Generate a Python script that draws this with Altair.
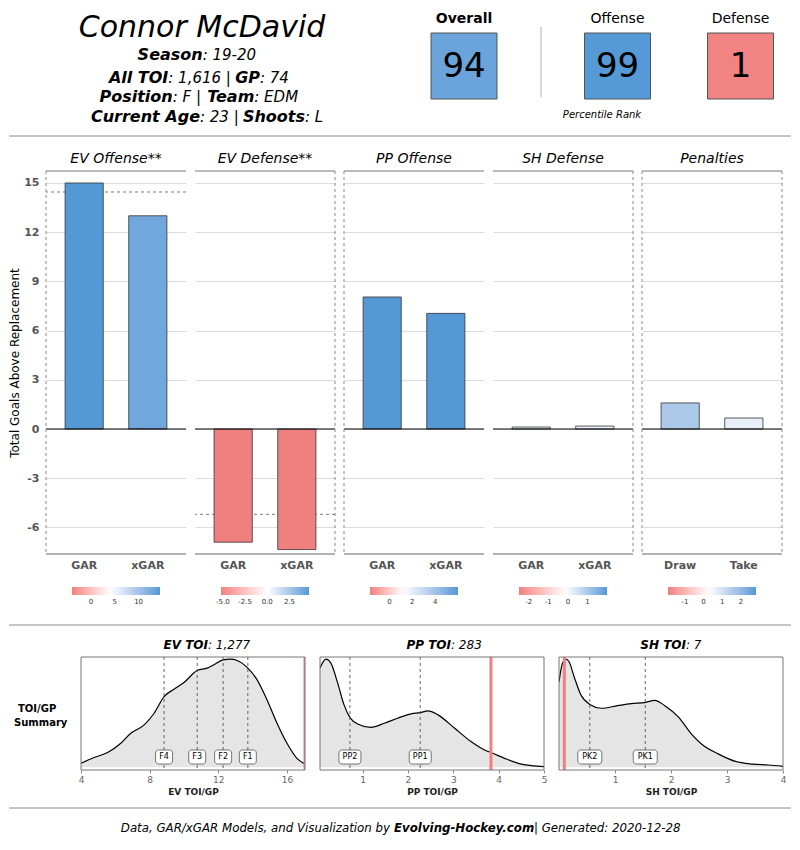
import altair as alt
import pandas as pd

FONT = "DejaVu Sans"
RED = "#f08080"
BLUE = "#5499d6"
GRID = "#dcdcdc"
SEP = "#8c8c8c"

# ---------------- header content ----------------
player_name = "Connor McDavid"
info_text = [
    ["Season", ": 19-20"],
    ["All TOI", ": 1,616 | ", "GP", ": 74"],
    ["Position", ": F | ", "Team", ": EDM"],
    ["Current Age", ": 23 | ", "Shoots", ": L"],
]
rank_labels = ["Overall", "Offense", "Defense"]
rank_values = [94, 99, 1]
rank_note = "Percentile Rank"

# ---------------- GAR panels ----------------
panel_titles = ["EV Offense**", "EV Defense**", "PP Offense", "SH Defense", "Penalties"]
panel_cats = [["GAR", "xGAR"], ["GAR", "xGAR"], ["GAR", "xGAR"], ["GAR", "xGAR"], ["Draw", "Take"]]
panel_values = [[15.0, 13.0], [-6.9, -7.35], [8.05, 7.05], [0.12, 0.18], [1.59, 0.67]]
panel_refs = [[14.45], [-5.2], [], [], []]
color_domains = [[-4.0, 4.0, 14.5], [-5.2, 0.0, 4.7], [-1.7, 1.2, 6.0], [-2.5, -0.1, 2.0], [-1.9, 0.3, 2.8]]
legend_values = [[0, 5, 10], [-5.0, -2.5, 0.0, 2.5], [0, 2, 4], [-2, -1, 0, 1], [-1, 0, 1, 2]]
legend_formats = ["d", ".1f", "d", "d", "d"]
y_ticks = [-6, -3, 0, 3, 6, 9, 12, 15]

# ---------------- TOI densities ----------------
dens_titles_bold = ["EV TOI", "PP TOI", "SH TOI"]
dens_titles_rest = [": 1,277", ": 283", ": 7"]
dens_xtitles = ["EV TOI/GP", "PP TOI/GP", "SH TOI/GP"]
ev_x = [4.0, 4.77, 5.55, 6.32, 6.90, 7.68, 8.26, 8.84, 9.42, 10.0, 10.77, 11.35, 11.74, 12.28,
        12.71, 13.10, 13.72, 14.26, 14.84, 15.42, 16.0, 16.58, 17.04]
ev_d = [0.037, 0.09, 0.136, 0.222, 0.315, 0.392, 0.50, 0.654, 0.722, 0.784, 0.895, 0.917, 0.948,
        0.994, 1.0, 0.988, 0.917, 0.809, 0.623, 0.407, 0.222, 0.083, 0.031]
pp_x = [0.06, 0.19, 0.30, 0.45, 0.59, 0.73, 0.89, 1.18, 1.48, 1.77, 2.07, 2.27, 2.44, 2.66,
        3.03, 3.39, 3.69, 3.87, 4.13, 4.43, 4.72, 5.0]
pp_d = [0.918, 1.0, 0.963, 0.778, 0.577, 0.454, 0.401, 0.370, 0.407, 0.454, 0.494, 0.506, 0.522,
        0.485, 0.361, 0.238, 0.160, 0.130, 0.083, 0.037, 0.015, 0.006]
sh_x = [0.0, 0.06, 0.12, 0.18, 0.27, 0.39, 0.56, 0.75, 1.05, 1.29, 1.55, 1.71, 1.89, 2.13, 2.37,
        2.55, 2.85, 3.15, 3.45, 3.74, 4.0]
sh_d = [0.79, 0.96, 1.0, 0.976, 0.838, 0.671, 0.579, 0.546, 0.570, 0.588, 0.601, 0.619, 0.570,
        0.466, 0.305, 0.213, 0.122, 0.055, 0.030, 0.021, 0.009]
dens_x = [ev_x, pp_x, sh_x]
dens_y = [ev_d, pp_d, sh_d]
dens_domains = [[4.0, 17.05], [0.06, 5.0], [0.0, 4.0]]
dens_ticks = [[4, 6, 8, 10, 12, 14, 16], [1, 2, 3, 4, 5], [1, 2, 3, 4]]
mark_pos = [[8.84, 10.77, 12.28, 13.72], [0.72, 2.27], [0.55, 1.54]]
mark_labels = [["F4", "F3", "F2", "F1"], ["PP2", "PP1"], ["PK2", "PK1"]]
player_toi = [17.26, 3.83, 0.095]
summary_lines = ["TOI/GP", "Summary"]

footer_parts = ["Data, GAR/xGAR Models, and Visualization by", "Evolving-Hockey.com", "| Generated: 2020-12-28"]

# ---------------- layout (pixels) ----------------
OX, OY = 45, 8          # page position of the charts' common origin
W = 745                 # header / footer width
LEFT = -37              # separators start (page x 8)
info_split = [[201.7], [167.3, 259.0], [171.7, 253.3], [199.0, 304.0]]
info_y = [60, 82.7, 101.7, 121.7]
rank_x = [463, 616.5, 739.5]
PW, PH = 140, 383
DW, DH = 224, 113
title_split = [127, 131, 127]
box_w = [17, 22, 24]
MINUS = "replace(datum.label, '\u2212', '-')"

one = pd.DataFrame({"k": [0]})


def px(x):
    return x - OX


def py(y):
    return y - OY


def txt(text, x, y, size, weight="normal", style="normal", align="left", baseline="alphabetic", color="black"):
    return alt.Chart(one).mark_text(text=text, font=FONT, fontSize=size, fontWeight=weight, fontStyle=style,
                                    align=align, baseline=baseline, color=color).encode(
        x=alt.value(x), y=alt.value(y))


# ================= header =================
hl = [txt(player_name, px(201), py(37), 30, style="italic", align="center")]
for li, segs in enumerate(info_text):
    y = py(info_y[li])
    for k in range(0, len(segs), 2):
        sx = px(info_split[li][k // 2])
        hl.append(txt(segs[k], sx, y, 16, weight="bold", style="italic", align="right"))
        hl.append(txt(segs[k + 1], sx, y, 15, style="italic", align="left"))
rank_df = pd.DataFrame({"label": rank_labels, "value": rank_values})
rank_color = alt.Color("value:Q", scale=alt.Scale(domain=[0, 50, 100], range=[RED, "#ffffff", "#5098d5"],
                                                  interpolate="lab"), legend=None)
for i, lab in enumerate(rank_labels):
    sub = alt.Chart(rank_df).transform_filter(alt.datum.label == lab)
    hl.append(sub.mark_square(size=66 * 66, stroke="#555", strokeWidth=1, opacity=1).encode(
        x=alt.value(px(rank_x[i])), y=alt.value(py(66)), color=rank_color))
    hl.append(sub.mark_text(font=FONT, fontSize=34, color="black", baseline="middle", align="center").encode(
        x=alt.value(px(rank_x[i])), y=alt.value(py(67)), text="value:Q"))
    hl.append(sub.mark_text(font=FONT, fontSize=14, color="black", baseline="middle", align="center",
                            fontWeight="bold" if i == 0 else "normal").encode(
        x=alt.value(px(rank_x[i])), y=alt.value(py(19)), text="label:N"))
hl.append(alt.Chart(one).mark_rule(color="#cccccc", strokeWidth=1.5).encode(
    x=alt.value(px(540)), y=alt.value(py(27)), y2=alt.value(py(97))))
hl.append(txt(rank_note, px(601), py(115), 10, style="italic", align="center", baseline="middle"))
hl.append(alt.Chart(one).mark_rule(color=SEP, strokeWidth=1).encode(
    x=alt.value(LEFT), x2=alt.value(W), y=alt.value(py(136))))
header = alt.layer(*hl).properties(width=W, height=143)


# ================= GAR bar panels =================
def bar_panel(i):
    cats = panel_cats[i]
    df = pd.DataFrame({"cat": cats, "val": panel_values[i]})
    yscale = alt.Scale(domain=[-7.62, 15.73], nice=False, zero=False)
    if i == 0:
        yaxis = alt.Axis(values=y_ticks, title="Total Goals Above Replacement", titleFontWeight="normal",
                         titleFontSize=12, titleColor="black", labelFontWeight="bold", labelFontSize=11,
                         labelColor="#555", ticks=False, domain=False, gridColor=GRID, labelPadding=7,
                         titlePadding=3, titleFont=FONT, labelFont=FONT, minExtent=22, maxExtent=22,
                         labelExpr=MINUS)
    else:
        yaxis = alt.Axis(values=y_ticks, labels=False, ticks=False, domain=False, title=None, gridColor=GRID)
    xaxis = alt.Axis(title=None, labelAngle=0, labelFontWeight="bold", labelFontSize=11, labelColor="#555",
                     ticks=False, domain=False, labelPadding=5, labelFont=FONT)
    lo, mid, hi = color_domains[i]
    color = alt.Color("val:Q", scale=alt.Scale(domain=[lo, mid, hi], range=[RED, "#ffffff", BLUE],
                                               clamp=True, interpolate="lab"),
                      legend=alt.Legend(orient="none", legendX=26, legendY=416, direction="horizontal",
                                        gradientLength=88, gradientThickness=8, title=None,
                                        values=legend_values[i], format=legend_formats[i], labelFontSize=7,
                                        labelColor="#333", labelFont=FONT, gradientStrokeWidth=0,
                                        labelOverlap=False, labelOffset=3, labelExpr=MINUS))
    xenc = alt.X("cat:N", sort=cats, scale=alt.Scale(domain=cats, paddingInner=0.4, paddingOuter=0.3), axis=xaxis)
    layers = []
    if len(panel_refs[i]):
        layers.append(alt.Chart(pd.DataFrame({"val": panel_refs[i]})).mark_rule(
            color="#777", strokeDash=[3, 3], strokeWidth=1).encode(y=alt.Y("val:Q", scale=yscale)))
    layers.append(alt.Chart(df).mark_bar(stroke="#333", strokeWidth=0.8).encode(
        x=xenc, y=alt.Y("val:Q", scale=yscale, axis=yaxis), color=color))
    layers.append(alt.Chart(pd.DataFrame({"val": [0]})).mark_rule(color="black", strokeWidth=1.2).encode(
        y=alt.Y("val:Q", scale=yscale)))
    layers.append(alt.Chart(one).mark_rule(color="#777", strokeWidth=1).encode(
        x=alt.value(0), x2=alt.value(PW), y=alt.value(0)))
    layers.append(alt.Chart(one).mark_rule(color="#666", strokeWidth=1).encode(
        x=alt.value(0), x2=alt.value(PW), y=alt.value(PH)))
    sides = {0: [0], 1: [PW], 2: [0], 3: [PW], 4: [0, PW]}[i]
    for sx in sides:
        layers.append(alt.Chart(one).mark_rule(color="#888", strokeDash=[3, 3], strokeWidth=1).encode(
            x=alt.value(sx), y=alt.value(0), y2=alt.value(PH)))
    return alt.layer(*layers).properties(
        width=PW, height=PH,
        title=alt.TitleParams(panel_titles[i], fontStyle="italic", fontWeight="normal", fontSize=14,
                              font=FONT, offset=5, color="black", anchor="middle"))


bars_row = alt.hconcat(*[bar_panel(i) for i in range(5)], spacing=7).resolve_scale(
    color="independent").resolve_legend(color="independent")

sep_row = alt.Chart(one).mark_rule(color=SEP, strokeWidth=1).encode(
    x=alt.value(LEFT), x2=alt.value(W), y=alt.value(20)).properties(width=W, height=34)


# ================= density panels =================
def dens_panel(j):
    df = pd.DataFrame({"t": dens_x[j], "d": dens_y[j]})
    xs = alt.Scale(domain=dens_domains[j], nice=False, zero=False, clamp=True)
    ys = alt.Scale(domain=[-0.025, 1.02], nice=False, zero=False)
    xaxis = alt.Axis(values=dens_ticks[j], title=dens_xtitles[j], labelFontSize=9, labelColor="#666",
                     tickColor="#888", tickSize=3, domain=False, grid=False, titleFontSize=9,
                     titleFontWeight="bold", titleColor="#222", labelFlush=False, titlePadding=3,
                     labelPadding=2, labelFont=FONT, titleFont=FONT, format="d")
    X = alt.X("t:Q", scale=xs, axis=xaxis)
    Y = alt.Y("d:Q", scale=ys, axis=None)
    area = alt.Chart(df).mark_area(color="#e5e5e5", interpolate="monotone", clip=True).encode(x=X, y=Y)
    line = alt.Chart(df).mark_line(color="black", strokeWidth=1.2, interpolate="monotone", clip=True).encode(x=X, y=Y)
    mdf = pd.DataFrame({"t": mark_pos[j], "lab": mark_labels[j]})
    mX = alt.X("t:Q", scale=xs)
    rules = alt.Chart(mdf).mark_rule(color="#555", strokeDash=[3, 3], strokeWidth=0.9).encode(x=mX)
    boxes = alt.Chart(mdf).mark_rect(fill="white", stroke="#555", strokeWidth=0.8, cornerRadius=3,
                                     width=box_w[j], height=14).encode(x=mX, y=alt.value(100))
    labs = alt.Chart(mdf).mark_text(font=FONT, fontSize=8, color="black", baseline="middle").encode(
        x=mX, y=alt.value(100), text="lab:N")
    player = alt.Chart(pd.DataFrame({"t": [player_toi[j]]})).mark_rule(
        color=RED, strokeWidth=3, clip=True).encode(x=mX)
    border = alt.Chart(one).mark_rect(fill="transparent", stroke="#777", strokeWidth=1).encode(
        x=alt.value(0), x2=alt.value(DW), y=alt.value(0), y2=alt.value(DH))
    t1 = txt(dens_titles_bold[j], title_split[j], -12, 12, weight="bold", style="italic", align="right",
             baseline="middle")
    t2 = txt(dens_titles_rest[j], title_split[j], -12, 12, style="italic", align="left", baseline="middle")
    return alt.layer(area, line, rules, player, boxes, labs, border, t1, t2).properties(width=DW, height=DH)


summary = alt.layer(
    txt(summary_lines[0], px(17), 52, 10, weight="bold", baseline="middle"),
    txt(summary_lines[1], px(13), 66, 10, weight="bold", baseline="middle"),
).properties(width=20, height=DH)

dens_row = alt.hconcat(summary, *[dens_panel(j) for j in range(3)], spacing=15, bounds="flush")

footer = alt.layer(
    alt.Chart(one).mark_rule(color=SEP, strokeWidth=1).encode(x=alt.value(LEFT), x2=alt.value(W), y=alt.value(12)),
    txt(footer_parts[0], px(389), 32, 11.8, style="italic", align="right", baseline="middle"),
    txt(footer_parts[1], px(393), 32, 11.8, weight="bold", style="italic", align="left", baseline="middle"),
    txt(footer_parts[2], px(533), 32, 11.8, style="italic", align="left", baseline="middle"),
).properties(width=W, height=38)

chart = alt.vconcat(header, bars_row, sep_row, dens_row, footer, spacing=0).resolve_scale(
    color="independent").resolve_legend(color="independent").properties(
    padding=0, background="white"
).configure(font=FONT).configure_view(strokeWidth=0)

chart.save("out.html", embed_options={"renderer": "svg", "actions": False})
